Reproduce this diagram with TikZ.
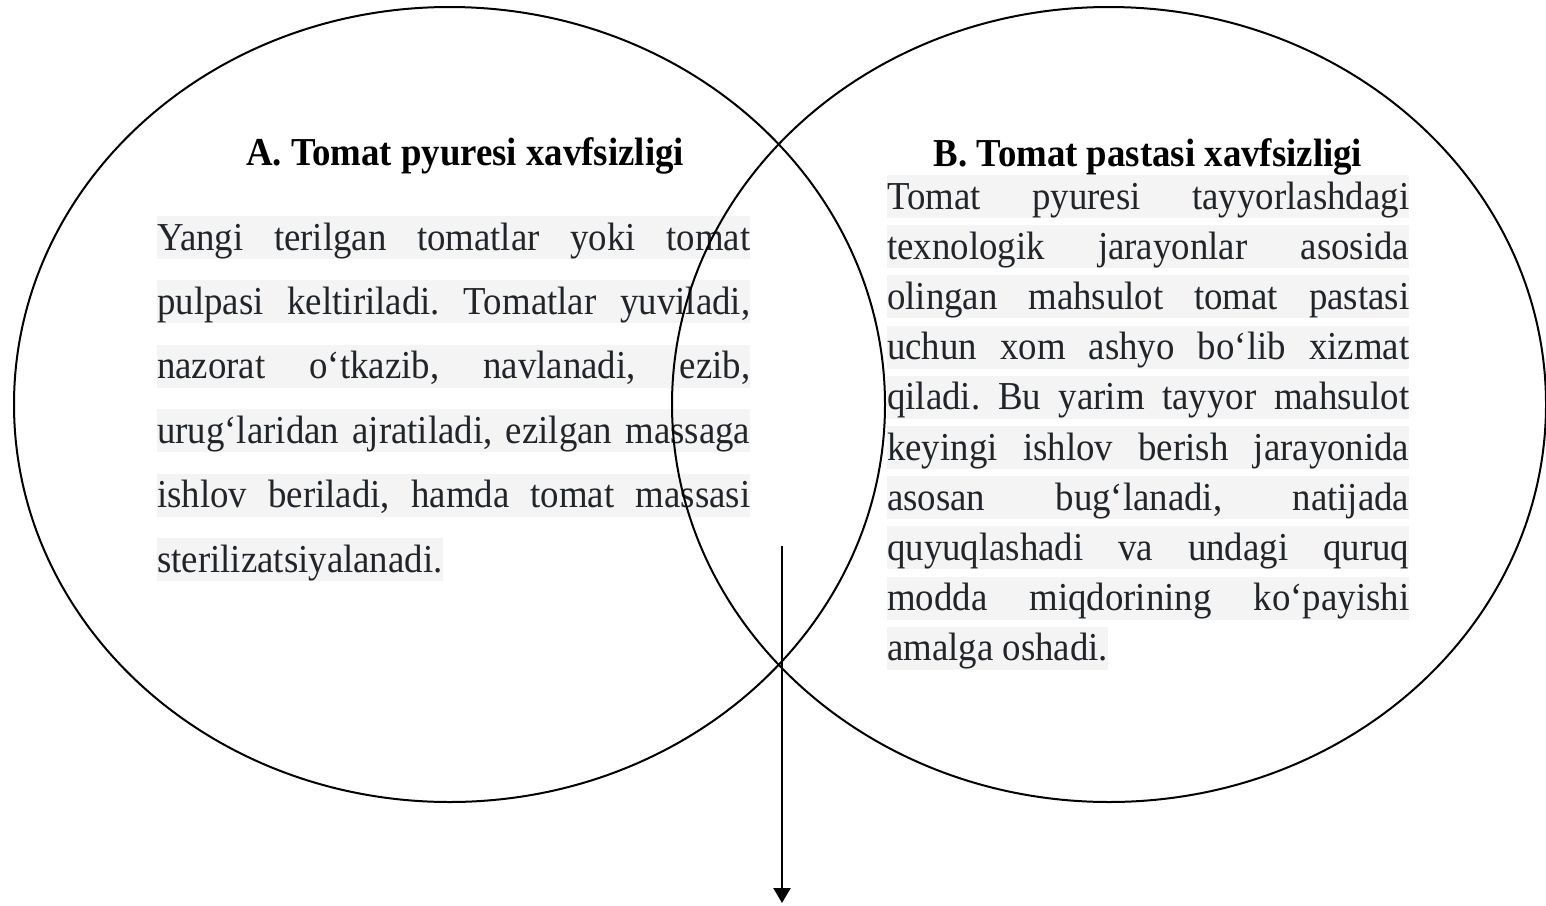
\documentclass[tikz,border=0pt]{standalone}
\usepackage{fontspec}
\setmainfont{Liberation Serif}[FakeStretch=0.93]
\usetikzlibrary{shapes.geometric,arrows.meta}
\definecolor{bandgray}{RGB}{244,244,244}
\definecolor{txtgray}{RGB}{33,37,41}
\frenchspacing
\tikzset{
  textline/.style={anchor=base west, fill=bandgray, text=txtgray, inner sep=0pt,
    text height=34pt, text depth=9pt, font=\fontsize{39.6pt}{44pt}\selectfont},
  headline/.style={anchor=base, inner sep=0pt, text=black,
    font=\fontsize{39.6pt}{44pt}\selectfont\bfseries},
  venn/.style={ellipse, draw=black, line width=2pt, inner sep=0pt},
  downarrow/.style={line width=2.3pt, -{Triangle[length=15pt,width=17pt]}}
}
\newcommand{\lineL}[1]{\makebox[593pt][s]{#1}}
\newcommand{\lineR}[1]{\makebox[522pt][s]{#1}}
\begin{document}
\begin{tikzpicture}[x=1pt,y=-1pt]
\useasboundingbox (0,0) rectangle (1546,905);
% left paragraph (under the circles)
\node[textline] (l1) at (157,250) {\lineL{Yangi terilgan tomatlar yoki tomat}};
\node[textline] (l2) at (157,314.4) {\lineL{pulpasi keltiriladi. Tomatlar yuviladi,}};
\node[textline] (l3) at (157,378.8) {\lineL{nazorat o‘tkazib, navlanadi, ezib,}};
\node[textline] (l4) at (157,443.2) {\lineL{urug‘laridan ajratiladi, ezilgan massaga}};
\node[textline] (l5) at (157,507.6) {\lineL{ishlov beriladi, hamda tomat massasi}};
\node[textline] (l6) at (157,572) {sterilizatsiyalanadi.};
% circles
\node[venn, minimum width=871pt, minimum height=795pt] (cA) at (449.5,404.5) {};
\node[venn, minimum width=874pt, minimum height=795pt] (cB) at (1109,404.5) {};
% right paragraph (over the circles)
\node[textline] (r1) at (887,209) {\lineR{Tomat pyuresi tayyorlashdagi}};
\node[textline] (r2) at (887,259.2) {\lineR{texnologik jarayonlar asosida}};
\node[textline] (r3) at (887,309.4) {\lineR{olingan mahsulot tomat pastasi}};
\node[textline] (r4) at (887,359.6) {\lineR{uchun xom ashyo bo‘lib xizmat}};
\node[textline] (r5) at (887,409.8) {\lineR{qiladi. Bu yarim tayyor mahsulot}};
\node[textline] (r6) at (887,460) {\lineR{keyingi ishlov berish jarayonida}};
\node[textline] (r7) at (887,510.2) {\lineR{asosan bug‘lanadi, natijada}};
\node[textline] (r8) at (887,560.4) {\lineR{quyuqlashadi va undagi quruq}};
\node[textline] (r9) at (887,610.6) {\lineR{modda miqdorining ko‘payishi}};
\node[textline] (r10) at (887,660.8) {amalga oshadi.};
% headings
\node[headline] (hA) at (465,165) {A. Tomat pyuresi xavfsizligi};
\node[headline] (hB) at (1148,166) {B. Tomat pastasi xavfsizligi};
% arrow
\coordinate (arrtop) at (782,546);
\coordinate (arrend) at (782,903);
\draw[downarrow] (arrtop) -- (arrend);
\end{tikzpicture}
\end{document}
